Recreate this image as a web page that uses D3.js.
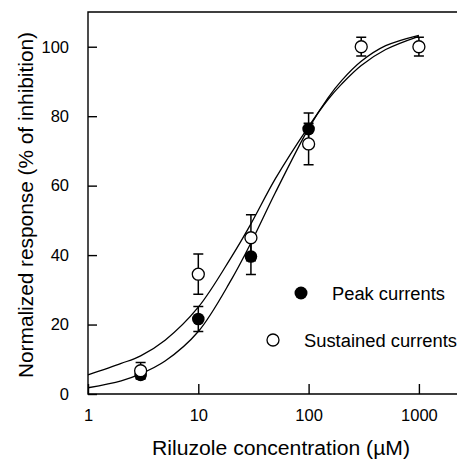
<!DOCTYPE html>
<html>
<head>
<meta charset="utf-8">
<script src="https://cdn.jsdelivr.net/npm/d3@7"></script>
<style>
  body { margin: 0; background: #fff; }
  svg { display: block; font-family: "Liberation Sans", Arial, sans-serif; }
</style>
</head>
<body>
<main></main>
<script>
const w = 458;
const h = 459;

// measured points (concentration in uM, % inhibition, s.e.m.)
const peakConc = [3, 10, 30, 100];
const peakMean = [5.5, 21.6, 39.6, 76.3];
const peakErr = [1, 3.6, 5.2, 4.6];

const sustConc = [3, 10, 30, 100, 300, 1000];
const sustMean = [6.7, 34.5, 45, 72, 100, 100];
const sustErr = [2.4, 5.8, 6.6, 6, 2.7, 2.7];

// fitted curves
const curveConc = [1, 2, 3, 5, 10, 20, 30, 50, 100, 150, 200, 300, 500, 1000];
const peakFit = [1.8, 3.8, 5.8, 9.5, 18, 33, 43.5, 58, 76.5, 85.3, 90.3, 95.8, 100.3, 103.3];
const sustFit = [5.5, 8.8, 11, 15.5, 25, 39.5, 49, 62, 77, 84.8, 89.3, 94.6, 99.2, 103];

const xTicks = [1, 10, 100, 1000];
const yTicks = [0, 20, 40, 60, 80, 100];

const plotLeft = 88, plotRight = 457, plotTop = 12, plotBottom = 394;

const xScale = d3.scaleLog()
    .domain([1, 2215])
    .range([plotLeft, plotRight]);

const yScale = d3.scaleLinear()
    .domain([0, 110])
    .range([plotBottom, plotTop]);

const svg = d3.select("main")
    .append("svg")
    .attr("width", w)
    .attr("height", h);

// frame: left, top, bottom
svg.append("path")
    .attr("d", `M${plotRight},${plotTop}H${plotLeft}V${plotBottom}H${plotRight}`)
    .attr("fill", "none")
    .attr("stroke", "#000")
    .attr("stroke-width", 1.4);

const xAxis = d3.axisBottom(xScale)
    .tickValues(xTicks)
    .tickFormat(d3.format("d"))
    .tickSizeInner(-10)
    .tickSizeOuter(0)
    .tickPadding(15);

const yAxis = d3.axisLeft(yScale)
    .tickValues(yTicks)
    .tickSizeInner(-9)
    .tickSizeOuter(0)
    .tickPadding(19);

const gx = svg.append("g")
    .attr("transform", "translate(0," + plotBottom + ")")
    .call(xAxis);

const gy = svg.append("g")
    .attr("transform", "translate(" + plotLeft + ",0)")
    .call(yAxis);

[gx, gy].forEach(g => {
    g.select(".domain").remove();
    g.selectAll("line").attr("stroke", "#000").attr("stroke-width", 1.4);
    g.selectAll("text")
        .attr("fill", "#000")
        .style("font-size", "16.5px");
});

// axis titles
svg.append("text")
    .attr("x", 281)
    .attr("y", 455)
    .attr("text-anchor", "middle")
    .attr("textLength", 258)
    .attr("lengthAdjust", "spacingAndGlyphs")
    .style("font-size", "20px")
    .text("Riluzole concentration (\u00b5M)");

svg.append("text")
    .attr("transform", "translate(33,205) rotate(-90)")
    .attr("text-anchor", "middle")
    .attr("textLength", 346)
    .attr("lengthAdjust", "spacingAndGlyphs")
    .style("font-size", "20px")
    .text("Normalized response (% of inhibition)");

// fitted curves
const line = d3.line()
    .x(d => xScale(d[0]))
    .y(d => yScale(d[1]))
    .curve(d3.curveCatmullRom.alpha(0.5));

[peakFit, sustFit].forEach(fit => {
    svg.append("path")
        .datum(curveConc.map((c, i) => [c, fit[i]]))
        .attr("d", line)
        .attr("fill", "none")
        .attr("stroke", "#000")
        .attr("stroke-width", 1.3);
});

// error bars
function errorBars(conc, mean, err) {
    const data = conc.map((c, i) => ({ c: c, m: mean[i], e: err[i] }));
    const g = svg.append("g")
        .attr("stroke", "#000")
        .attr("stroke-width", 1.5);
    g.selectAll(".bar")
        .data(data)
        .enter()
        .append("path")
        .attr("fill", "none")
        .attr("d", d => {
            const x = xScale(d.c);
            const y1 = yScale(d.m + d.e);
            const y2 = yScale(d.m - d.e);
            return `M${x - 5},${y1}H${x + 5}M${x},${y1}V${y2}M${x - 5},${y2}H${x + 5}`;
        });
}

errorBars(peakConc, peakMean, peakErr);
errorBars(sustConc, sustMean, sustErr);

svg.append("g")
    .selectAll("circle")
    .data(peakConc.map((c, i) => [c, peakMean[i]]))
    .enter()
    .append("circle")
    .attr("cx", d => xScale(d[0]))
    .attr("cy", d => yScale(d[1]))
    .attr("r", 6.3)
    .attr("fill", "#000");

svg.append("g")
    .selectAll("circle")
    .data(sustConc.map((c, i) => [c, sustMean[i]]))
    .enter()
    .append("circle")
    .attr("cx", d => xScale(d[0]))
    .attr("cy", d => yScale(d[1]))
    .attr("r", 6)
    .attr("fill", "#fff")
    .attr("stroke", "#000")
    .attr("stroke-width", 1.3);

// legend
const legend = [
    { label: "Peak currents", filled: true, cx: 301, tx: 332, y: 293, len: 113 },
    { label: "Sustained currents", filled: false, cx: 273, tx: 304, y: 340, len: 153 }
];

legend.forEach(d => {
    svg.append("circle")
        .attr("cx", d.cx)
        .attr("cy", d.y)
        .attr("r", d.filled ? 6.5 : 6)
        .attr("fill", d.filled ? "#000" : "#fff")
        .attr("stroke", "#000")
        .attr("stroke-width", d.filled ? 0 : 1.3);
    svg.append("text")
        .attr("x", d.tx)
        .attr("y", d.y + 6.5)
        .attr("textLength", d.len)
        .attr("lengthAdjust", "spacingAndGlyphs")
        .style("font-size", "18px")
        .text(d.label);
});
</script>
</body>
</html>
